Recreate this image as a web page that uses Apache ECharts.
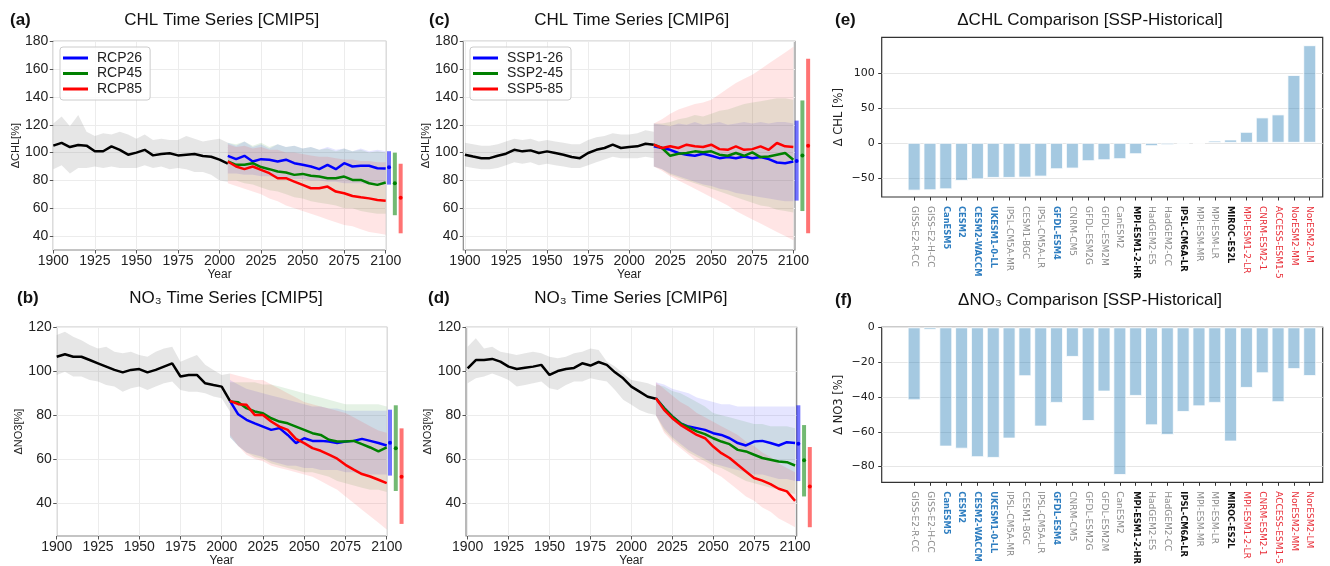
<!DOCTYPE html>
<html style="height: 100%">
  <head>
    <meta charset="utf-8" />
  </head>
  <body style="height: 100%; margin: 0; background: #fff">
    <div id="container" style="width: 1330px; height: 566px"></div>
    <script src="https://cdn.jsdelivr.net/npm/echarts@6/dist/echarts.min.js"></script>
    <script>
      // ---------- years ----------
      var yearsHist5 = [1900, 1905, 1910, 1915, 1920, 1925, 1930, 1935, 1940, 1945, 1950, 1955, 1960, 1965, 1970, 1975, 1980, 1985, 1990, 1995, 2000, 2005];
      var yearsScen5 = [2005, 2010, 2015, 2020, 2025, 2030, 2035, 2040, 2045, 2050, 2055, 2060, 2065, 2070, 2075, 2080, 2085, 2090, 2095, 2100];
      var yearsHist6 = [1900, 1905, 1910, 1915, 1920, 1925, 1930, 1935, 1940, 1945, 1950, 1955, 1960, 1965, 1970, 1975, 1980, 1985, 1990, 1995, 2000, 2005, 2010, 2015];
      var yearsScen6 = [2015, 2020, 2025, 2030, 2035, 2040, 2045, 2050, 2055, 2060, 2065, 2070, 2075, 2080, 2085, 2090, 2095, 2100];

      // ---------- (a) CHL CMIP5 ----------
      var chl5Hist = [105, 107, 104, 105.5, 105, 101, 101, 104.5, 102, 98.5, 100, 102, 98, 99, 99.5, 98, 98.5, 99, 97.5, 97, 95, 92];
      var chl5HistHi = [121, 126, 119, 127, 115, 112, 114, 113, 115, 113, 110, 113, 109, 110, 109, 109, 112, 110, 108, 109, 110, 107];
      var chl5HistLo = [88, 91, 85, 89, 89, 90, 89, 90, 89, 89, 89, 91, 89, 90, 88, 89, 88, 86, 86, 84, 80, 79];
      var chl5Rcp26 = [97.7, 95.3, 97.7, 93.6, 95.3, 94.9, 93.6, 94.9, 92.4, 91.2, 90, 88.1, 91.2, 88.1, 92.4, 90, 90.5, 90.5, 88.8, 88.5];
      var chl5Rcp45 = [93.6, 91.2, 91.2, 92.4, 89.6, 88.1, 86.4, 85.7, 84, 84.7, 83.3, 82.8, 81.6, 81.6, 82.8, 80.4, 80.4, 78, 76.8, 78.5];
      var chl5Rcp85 = [93.6, 90, 88.1, 90, 87.6, 85.2, 81.6, 81.6, 79.2, 76.8, 74.4, 74.4, 75.6, 72, 70.8, 68.8, 67.9, 67.1, 65.9, 65.4];
      var chl5Rcp26Hi = [107, 105, 108, 104, 106, 103, 106, 104, 105, 103, 104, 102, 104, 102, 103, 101, 103, 101, 102, 101];
      var chl5Rcp26Lo = [85, 85, 84, 84, 83, 83, 82, 82, 81, 81, 80, 80, 79, 79, 78, 78, 78, 77, 77, 77];
      var chl5Rcp45Hi = [107, 106, 108, 105, 107, 104, 106, 104, 105, 103, 104, 102, 103, 101, 103, 101, 102, 100, 101, 100];
      var chl5Rcp45Lo = [80, 80, 78, 77, 75, 73, 72, 70, 68, 67, 65, 64, 63, 62, 60, 60, 58, 57, 56, 56];
      var chl5Rcp85Hi = [106, 104, 105, 103, 104, 102, 102, 100, 100, 99, 98, 97, 97, 96, 95, 95, 94, 94, 93, 93];
      var chl5Rcp85Lo = [78, 76, 74, 72, 70, 67, 65, 62, 60, 58, 56, 54, 52, 50, 48, 47, 45, 43, 42, 41];

      // ---------- (c) CHL CMIP6 ----------
      var chl6Hist = [98.5, 97.2, 96, 96, 97.7, 99.2, 102, 100.9, 101.6, 99.7, 100.9, 99.7, 98.5, 96.8, 96, 99.7, 102, 103.3, 105.7, 103.3, 104, 104.5, 106.4, 105.7];
      var chl6HistHi = [107, 106, 105, 105, 106, 108, 110, 109, 110, 108, 109, 108, 107, 106, 106, 109, 111, 112, 114, 113, 113, 114, 116, 115];
      var chl6HistLo = [90, 89, 88, 88, 89, 91, 93, 92, 93, 91, 92, 91, 90, 89, 89, 91, 93, 95, 97, 96, 96, 96, 97, 96];
      var chl6Ssp126 = [104.5, 103.3, 102, 99.7, 98.5, 97.7, 99.2, 97.7, 96, 96.8, 96, 97.2, 96, 96.8, 95.3, 92.9, 92.4, 93.6];
      var chl6Ssp245 = [105.7, 103.3, 97.7, 99.2, 99.7, 100.9, 100.2, 100.9, 98.5, 97.7, 99.7, 97.7, 100.2, 96.8, 97.2, 98.5, 99.7, 94.9];
      var chl6Ssp585 = [105.7, 103.3, 104.5, 103.3, 105.7, 104.5, 104, 105.7, 102.5, 102, 104.5, 102, 102.5, 104.5, 102, 106.9, 104.5, 104];
      var chl6Ssp126Hi = [121, 120, 119, 121, 120, 122, 120, 121, 122, 120, 121, 122, 121, 122, 121, 122, 122, 121];
      var chl6Ssp126Lo = [90, 88, 85, 83, 81, 79, 77, 76, 74, 73, 71, 70, 69, 68, 67, 66, 65, 65];
      var chl6Ssp245Hi = [121, 121, 122, 124, 125, 127, 126, 128, 130, 131, 133, 135, 136, 137, 138, 139, 139, 138];
      var chl6Ssp245Lo = [90, 88, 84, 82, 80, 78, 76, 74, 72, 70, 68, 66, 64, 62, 61, 59, 58, 57];
      var chl6Ssp585Hi = [121, 124, 128, 131, 133, 135, 136, 138, 142, 146, 150, 153, 156, 160, 164, 168, 172, 176];
      var chl6Ssp585Lo = [90, 87, 83, 80, 77, 74, 71, 68, 65, 62, 58, 55, 52, 49, 46, 43, 40, 37];

      // ---------- (b) NO3 CMIP5 ----------
      var no35Hist = [106.6, 107.7, 106.6, 106.6, 105.1, 103.6, 102.1, 100.6, 99.5, 100.6, 101, 99.5, 100.6, 102.1, 103.6, 97.6, 98.3, 98.3, 94.5, 93.7, 93, 86.5];
      var no35HistHi = [116.5, 118, 115.7, 114.1, 111.9, 110.4, 111.1, 108.9, 108.2, 108.9, 107.4, 106.6, 108.9, 110.4, 111.1, 104.3, 105.9, 107.4, 102.9, 100.6, 98.3, 99];
      var no35HistLo = [98.3, 99.8, 97.6, 97.6, 96, 95.3, 93.7, 93, 90.7, 92.2, 93, 91.5, 93, 94.5, 95.3, 91.5, 90.7, 90.7, 90, 88.5, 87.7, 81.7];
      var no35Rcp26 = [86.5, 80.4, 77.9, 76.3, 74.8, 73.3, 74.1, 71, 67.3, 69.5, 68.3, 68.3, 68, 67.3, 68, 68.3, 69.2, 68.3, 67.3, 66.2];
      var no35Rcp45 = [86.2, 85.9, 83.2, 81.7, 80.9, 78.6, 77.1, 76.3, 74.8, 73.3, 71.8, 71, 68.8, 68, 68, 68.3, 66.8, 65.3, 63.5, 65.3];
      var no35Rcp85 = [86.5, 85, 84.7, 80.1, 80.1, 77.1, 74.8, 73.3, 69.2, 67.3, 65, 63.8, 62, 60.2, 57.4, 55.2, 53.2, 52.1, 50.6, 49.1];
      var no35Rcp26Hi = [96, 94, 92, 91, 90, 89, 88, 87, 86, 85, 84, 84, 83, 83, 82, 82, 82, 82, 82, 82];
      var no35Rcp26Lo = [70, 66, 63, 62, 61, 59, 58, 57, 57, 56, 56, 55, 55, 55, 54, 54, 53, 53, 53, 53];
      var no35Rcp45Hi = [95, 95, 95, 95, 94, 94, 93, 92, 91, 90, 89, 88, 87, 86, 85, 85, 85, 85, 85, 84];
      var no35Rcp45Lo = [70, 66, 63, 61, 60, 58, 57, 56, 55, 54, 54, 53, 52, 50, 49, 48, 47, 46, 46, 45];
      var no35Rcp85Hi = [99, 98, 97, 96, 96, 94, 92, 90, 88, 86, 85, 84, 83, 82, 81, 79, 77, 75, 73, 72];
      var no35Rcp85Lo = [71, 66, 62, 60, 59, 57, 56, 55, 54, 53, 52, 50, 48, 46, 43, 40, 37, 34, 31, 28];

      // ---------- (d) NO3 CMIP6 ----------
      var no36Hist = [101.3, 105.1, 105.1, 105.6, 104.4, 102.1, 101, 101.6, 102.1, 102.9, 98.3, 100.1, 101, 101.5, 103.6, 102.6, 104.2, 102.9, 99.5, 96.8, 93, 90.7, 88.4, 87.5];
      var no36HistHi = [111.2, 115, 110.4, 111.2, 108.9, 108.2, 107.4, 108.2, 108.9, 108.2, 106.6, 105.9, 106.6, 108.2, 108.9, 110.4, 109.7, 104.4, 102.1, 99, 96, 95.3, 94.5, 93];
      var no36HistLo = [94.5, 96.8, 97.6, 99, 97.6, 96, 93, 93.7, 94.5, 95.3, 92.2, 91.5, 93.7, 95.3, 95.3, 96.8, 96, 95.3, 91.5, 87, 84.7, 82.4, 80.9, 80.1];
      var no36Ssp126 = [87.7, 83.2, 79.4, 76.3, 74.8, 74.1, 73.3, 71.8, 71, 69.5, 67.3, 66.2, 68, 68.3, 67.3, 66.2, 67.7, 67.3];
      var no36Ssp245 = [87.7, 83.2, 79.4, 76.3, 74.4, 72.6, 71.4, 69.5, 68, 66.8, 64.2, 63.5, 62, 60.5, 59.7, 58.9, 58.6, 57.1];
      var no36Ssp585 = [87.7, 82.4, 78.6, 75.6, 73.3, 71, 69.5, 65.7, 62.7, 60.5, 57.4, 54.4, 51.4, 50.2, 48.6, 46.5, 45.3, 41];
      var no36Ssp126Hi = [95, 94, 92, 91, 90, 88, 87, 86, 85, 85, 84, 84, 84, 84, 84, 84, 84, 84];
      var no36Ssp126Lo = [80, 74, 70, 67, 64, 62, 60, 58, 57, 56, 55, 54, 53, 53, 52, 51, 51, 50];
      var no36Ssp245Hi = [94, 93, 91, 90, 88, 86, 84, 81, 80, 79, 78, 77, 76, 76, 75, 75, 75, 74];
      var no36Ssp245Lo = [80, 73, 69, 66, 63, 61, 59, 57, 56, 54, 52, 50, 49, 48, 47, 46, 45, 44];
      var no36Ssp585Hi = [95, 92, 89, 86, 84, 81, 79, 77, 75, 73, 71, 68, 66, 63, 61, 58, 56, 54];
      var no36Ssp585Lo = [80, 72, 68, 65, 62, 59, 57, 54, 52, 49, 46, 43, 41, 38, 36, 33, 31, 29];

      // ---------- end-of-century ranges (drawn right of each panel) ----------
      var errX = [2102, 2105.5, 2109];
      var chl5ErrLo = [77, 55, 42], chl5ErrHi = [101, 100, 92], chl5ErrMid = [89.5, 78, 67.5];
      var chl6ErrLo = [65.5, 58, 42], chl6ErrHi = [123, 137.5, 167.5], chl6ErrMid = [94, 98, 105];
      var no35ErrLo = [52.5, 45.5, 30.5], no35ErrHi = [82.5, 84.5, 74], no35ErrMid = [67.5, 65, 52];
      var no36ErrLo = [50, 43, 29], no36ErrHi = [84.5, 75.5, 65.5], no36ErrMid = [67, 59.5, 47.5];

      // ---------- (e)/(f) model differences ----------
      var models = ['GISS-E2-R-CC', 'GISS-E2-H-CC', 'CanESM5', 'CESM2', 'CESM2-WACCM', 'UKESM1-0-LL', 'IPSL-CM5A-MR', 'CESM1-BGC', 'IPSL-CM5A-LR', 'GFDL-ESM4', 'CNRM-CM5', 'GFDL-ESM2G', 'GFDL-ESM2M', 'CanESM2', 'MPI-ESM1-2-HR', 'HadGEM2-ES', 'HadGEM2-CC', 'IPSL-CM6A-LR', 'MPI-ESM-MR', 'MPI-ESM-LR', 'MIROC-ES2L', 'MPI-ESM1-2-LR', 'CNRM-ESM2-1', 'ACCESS-ESM1-5', 'NorESM2-MM', 'NorESM2-LM'];
      var modelGroup = ['g', 'g', 'b', 'b', 'b', 'b', 'g', 'g', 'g', 'b', 'g', 'g', 'g', 'g', 'k', 'g', 'g', 'k', 'g', 'g', 'k', 'r', 'r', 'r', 'r', 'r'];
      var chlDiff = [-68.4, -67.9, -66.5, -54.5, -52.2, -50.2, -50.2, -49.8, -48.3, -37.8, -36.8, -26.3, -24.9, -23.4, -16.3, -4.8, -3.3, -1.9, -1.4, 3.3, 4.8, 15.8, 36.4, 40.7, 97.1, 139.7];
      var no3Diff = [-41.9, -1.5, -68.5, -69.7, -74.6, -75, -63.9, -28.1, -57, -43.4, -17, -53.8, -36.9, -84.8, -39.4, -56.3, -61.8, -48.6, -45.4, -43.4, -65.6, -34.8, -26.4, -43, -24, -28];

      // ---------- tick labels ----------
      var yearTicks = [1900, 1925, 1950, 1975, 2000, 2025, 2050, 2075, 2100];
      var chlTicks = [40, 60, 80, 100, 120, 140, 160, 180];
      var no3Ticks = [40, 60, 80, 100, 120];
      var chlBarTicks = [-50, 0, 50, 100];
      var no3BarTicks = [-80, -60, -40, -20, 0];

      var FONT = '"Liberation Sans", Arial, sans-serif';
      var DJ = '"DejaVu Sans", sans-serif';
      var BLUE = '#0000ff', GREEN = '#008000', RED = '#ff0000';

      var dom = document.getElementById('container');
      var myChart = echarts.init(dom, null, { renderer: 'canvas' });

      function pairs(xs, ys) {
        return xs.map(function (x, i) { return [x, ys[i]]; });
      }

      // shaded spread between two arrays
      function band(idx, xs, hi, lo, fill) {
        return {
          type: 'custom', xAxisIndex: idx, yAxisIndex: idx, z: 1, silent: true,
          data: [[xs[0], lo[0]]],
          renderItem: function (params, api) {
            var pts = [];
            for (var i = 0; i < xs.length; i++) pts.push(api.coord([xs[i], hi[i]]));
            for (var j = xs.length - 1; j >= 0; j--) pts.push(api.coord([xs[j], lo[j]]));
            return { type: 'polygon', shape: { points: pts }, style: { fill: fill } };
          }
        };
      }

      function line(idx, name, xs, ys, color) {
        return {
          type: 'line', name: name, xAxisIndex: idx, yAxisIndex: idx, z: 3,
          data: pairs(xs, ys), symbol: 'none', showSymbol: false,
          lineStyle: { width: 2.5, color: color }, itemStyle: { color: color }
        };
      }

      function ranges(idx, lo, hi, mid) {
        var cols = [BLUE, GREEN, RED];
        return {
          type: 'custom', xAxisIndex: idx, yAxisIndex: idx, z: 4, clip: false, silent: true,
          data: errX.map(function (x, i) { return [x, lo[i], hi[i], mid[i]]; }),
          renderItem: function (params, api) {
            var x = api.value(0);
            var p1 = api.coord([x, api.value(1)]);
            var p2 = api.coord([x, api.value(2)]);
            var pm = api.coord([x, api.value(3)]);
            var c = cols[params.dataIndex];
            return {
              type: 'group',
              children: [
                { type: 'line', shape: { x1: p1[0], y1: p1[1], x2: p2[0], y2: p2[1] }, style: { stroke: c, lineWidth: 4, opacity: 0.55 } },
                { type: 'circle', shape: { cx: pm[0], cy: pm[1], r: 2 }, style: { fill: c } }
              ]
            };
          }
        };
      }

      function tsX(gi, min, max) {
        return {
          type: 'value', gridIndex: gi, min: min, max: max,
          name: 'Year', nameLocation: 'middle', nameGap: 19,
          nameTextStyle: { fontSize: 12, color: '#222', fontFamily: FONT },
          axisLine: { show: false, onZero: false },
          axisTick: { show: true, length: 3.5, customValues: yearTicks, lineStyle: { color: '#555' } },
          axisLabel: {
            customValues: yearTicks, fontSize: 14, color: '#222', margin: 4, fontFamily: FONT,
            formatter: function (v) { return String(v); }
          },
          splitLine: { show: true, lineStyle: { color: '#ececec', width: 1 } }
        };
      }

      function tsY(gi, min, max, ticks, name) {
        return {
          type: 'value', gridIndex: gi, min: min, max: max,
          name: name, nameLocation: 'middle', nameGap: 30.5,
          nameTextStyle: { fontSize: 11, color: '#222', fontFamily: FONT },
          axisLine: { show: false, onZero: false },
          axisTick: { show: true, length: 3.5, customValues: ticks, lineStyle: { color: '#555' } },
          axisLabel: { customValues: ticks, fontSize: 14, color: '#222', margin: 5, fontFamily: FONT },
          splitLine: { show: true, lineStyle: { color: '#ececec', width: 1 } }
        };
      }

      var labelRich = {
        g: { color: '#8c8c8c', fontSize: 9, fontFamily: DJ },
        b: { color: '#2f7ec0', fontSize: 8.3, fontWeight: 'bold', fontFamily: DJ },
        k: { color: '#111111', fontSize: 8.3, fontWeight: 'bold', fontFamily: DJ },
        r: { color: '#e8303a', fontSize: 9, fontFamily: DJ }
      };
      var modelIdx = models.map(function (m, i) { return i; });

      function barX(gi) {
        return {
          type: 'value', gridIndex: gi, min: -2.05, max: 25.82,
          axisLine: { show: false, onZero: false }, splitLine: { show: false },
          axisTick: { show: true, length: 3.5, customValues: modelIdx, lineStyle: { color: '#333' } },
          axisLabel: {
            customValues: modelIdx, rotate: -90, margin: 9,
            formatter: function (v) { return '{' + modelGroup[v] + '|' + models[v] + '}'; },
            rich: labelRich
          }
        };
      }

      function barY(gi, min, max, ticks, name) {
        return {
          type: 'value', gridIndex: gi, min: min, max: max,
          name: name, nameLocation: 'middle', nameGap: 37,
          nameTextStyle: { fontSize: 11.5, color: '#222', fontFamily: DJ },
          axisLine: { show: false, onZero: false },
          axisTick: { show: true, length: 3.5, customValues: ticks, lineStyle: { color: '#333' } },
          axisLabel: {
            customValues: ticks, fontSize: 11, color: '#222', margin: 7, fontFamily: DJ,
            formatter: function (v) { return String(v).replace('-', '\u2212'); }
          },
          splitLine: { show: true, lineStyle: { color: '#e6e6e6', width: 1 } }
        };
      }

      function bars(gi, vals) {
        return {
          type: 'bar', xAxisIndex: gi, yAxisIndex: gi, barWidth: 13,
          data: pairs(modelIdx, vals),
          itemStyle: { color: 'rgba(31,119,180,0.4)', borderColor: 'rgba(255,255,255,0.8)', borderWidth: 1 }
        };
      }

      function title(text, x, y, bold) {
        return {
          text: text, left: x, top: y, padding: 0,
          textAlign: bold ? 'left' : 'center', textVerticalAlign: 'middle',
          textStyle: { fontSize: 17, fontWeight: bold ? 'bold' : 'normal', color: '#111', fontFamily: FONT }
        };
      }

      function legend(names, x, y) {
        return {
          data: names, left: x, top: y, orient: 'vertical',
          icon: 'rect', itemWidth: 25, itemHeight: 3, itemGap: 1.5,
          padding: [4, 8, 4, 3],
          backgroundColor: 'rgba(255,255,255,0.85)', borderColor: '#cccccc', borderWidth: 1, borderRadius: 3,
          textStyle: { fontSize: 14, color: '#222', fontFamily: FONT, padding: [0, 0, 0, 4] }
        };
      }

      var gridBox = [
        { left: 53.3, top: 41.3, width: 332.4, height: 208.7, c: '#8a8a8a' },
        { left: 56.7, top: 327.3, width: 330, height: 208.7, c: '#8a8a8a' },
        { left: 463.3, top: 41.3, width: 331.7, height: 208.7, c: '#8a8a8a' },
        { left: 466, top: 327.3, width: 330.7, height: 208.7, c: '#8a8a8a' },
        { left: 881.7, top: 37.3, width: 441, height: 159.7, c: '#333333' },
        { left: 881.7, top: 327.3, width: 441, height: 155, c: '#333333' }
      ];

      option = {
        animation: false,
        backgroundColor: '#ffffff',
        title: [
          title('(a)', 10, 20, true),
          title('CHL Time Series [CMIP5]', 221.7, 20),
          title('(b)', 17, 298, true),
          title('NO\u2083 Time Series [CMIP5]', 226, 298),
          title('(c)', 429, 20, true),
          title('CHL Time Series [CMIP6]', 631.7, 20),
          title('(d)', 428, 298, true),
          title('NO\u2083 Time Series [CMIP6]', 630.8, 298),
          title('(e)', 835, 20, true),
          title('\u0394CHL Comparison [SSP-Historical]', 1090, 20),
          title('(f)', 835, 300, true),
          title('\u0394NO\u2083 Comparison [SSP-Historical]', 1090, 300)
        ],
        legend: [
          legend(['RCP26', 'RCP45', 'RCP85'], 60, 47),
          legend(['SSP1-26', 'SSP2-45', 'SSP5-85'], 470, 47)
        ],
        grid: gridBox.map(function (g) {
          return {
            left: g.left, top: g.top, width: g.width, height: g.height,
            show: true, borderColor: g.c, borderWidth: 1.2, backgroundColor: 'transparent',
            containLabel: false, outerBoundsMode: 'none'
          };
        }),
        xAxis: [tsX(0, 1900, 2100), tsX(1, 1900, 2100), tsX(2, 1899, 2101), tsX(3, 1899, 2101), barX(4), barX(5)],
        yAxis: [
          tsY(0, 30, 180, chlTicks, '\u0394CHL[%]'),
          tsY(1, 25, 120, no3Ticks, '\u0394NO3[%]'),
          tsY(2, 30, 180, chlTicks, '\u0394CHL[%]'),
          tsY(3, 25, 120, no3Ticks, '\u0394NO3[%]'),
          barY(4, -77.5, 151, chlBarTicks, '\u0394 CHL [%]'),
          barY(5, -89, 0, no3BarTicks, '\u0394 NO3 [%]')
        ],
        series: [
          // (a)
          band(0, yearsHist5, chl5HistHi, chl5HistLo, 'rgba(128,128,128,0.2)'),
          band(0, yearsScen5, chl5Rcp26Hi, chl5Rcp26Lo, 'rgba(0,0,255,0.1)'),
          band(0, yearsScen5, chl5Rcp45Hi, chl5Rcp45Lo, 'rgba(0,128,0,0.1)'),
          band(0, yearsScen5, chl5Rcp85Hi, chl5Rcp85Lo, 'rgba(255,0,0,0.1)'),
          line(0, 'hist5chl', yearsHist5, chl5Hist, '#000000'),
          line(0, 'RCP26', yearsScen5, chl5Rcp26, BLUE),
          line(0, 'RCP45', yearsScen5, chl5Rcp45, GREEN),
          line(0, 'RCP85', yearsScen5, chl5Rcp85, RED),
          ranges(0, chl5ErrLo, chl5ErrHi, chl5ErrMid),
          // (b)
          band(1, yearsHist5, no35HistHi, no35HistLo, 'rgba(128,128,128,0.2)'),
          band(1, yearsScen5, no35Rcp26Hi, no35Rcp26Lo, 'rgba(0,0,255,0.1)'),
          band(1, yearsScen5, no35Rcp45Hi, no35Rcp45Lo, 'rgba(0,128,0,0.1)'),
          band(1, yearsScen5, no35Rcp85Hi, no35Rcp85Lo, 'rgba(255,0,0,0.1)'),
          line(1, 'hist5no3', yearsHist5, no35Hist, '#000000'),
          line(1, 'RCP26', yearsScen5, no35Rcp26, BLUE),
          line(1, 'RCP45', yearsScen5, no35Rcp45, GREEN),
          line(1, 'RCP85', yearsScen5, no35Rcp85, RED),
          ranges(1, no35ErrLo, no35ErrHi, no35ErrMid),
          // (c)
          band(2, yearsHist6, chl6HistHi, chl6HistLo, 'rgba(128,128,128,0.2)'),
          band(2, yearsScen6, chl6Ssp126Hi, chl6Ssp126Lo, 'rgba(0,0,255,0.1)'),
          band(2, yearsScen6, chl6Ssp245Hi, chl6Ssp245Lo, 'rgba(0,128,0,0.1)'),
          band(2, yearsScen6, chl6Ssp585Hi, chl6Ssp585Lo, 'rgba(255,0,0,0.1)'),
          line(2, 'hist6chl', yearsHist6, chl6Hist, '#000000'),
          line(2, 'SSP1-26', yearsScen6, chl6Ssp126, BLUE),
          line(2, 'SSP2-45', yearsScen6, chl6Ssp245, GREEN),
          line(2, 'SSP5-85', yearsScen6, chl6Ssp585, RED),
          ranges(2, chl6ErrLo, chl6ErrHi, chl6ErrMid),
          // (d)
          band(3, yearsHist6, no36HistHi, no36HistLo, 'rgba(128,128,128,0.2)'),
          band(3, yearsScen6, no36Ssp126Hi, no36Ssp126Lo, 'rgba(0,0,255,0.1)'),
          band(3, yearsScen6, no36Ssp245Hi, no36Ssp245Lo, 'rgba(0,128,0,0.1)'),
          band(3, yearsScen6, no36Ssp585Hi, no36Ssp585Lo, 'rgba(255,0,0,0.1)'),
          line(3, 'hist6no3', yearsHist6, no36Hist, '#000000'),
          line(3, 'SSP1-26', yearsScen6, no36Ssp126, BLUE),
          line(3, 'SSP2-45', yearsScen6, no36Ssp245, GREEN),
          line(3, 'SSP5-85', yearsScen6, no36Ssp585, RED),
          ranges(3, no36ErrLo, no36ErrHi, no36ErrMid),
          // (e), (f)
          bars(4, chlDiff),
          bars(5, no3Diff)
        ]
      };

      myChart.setOption(option);
    </script>
  </body>
</html>
